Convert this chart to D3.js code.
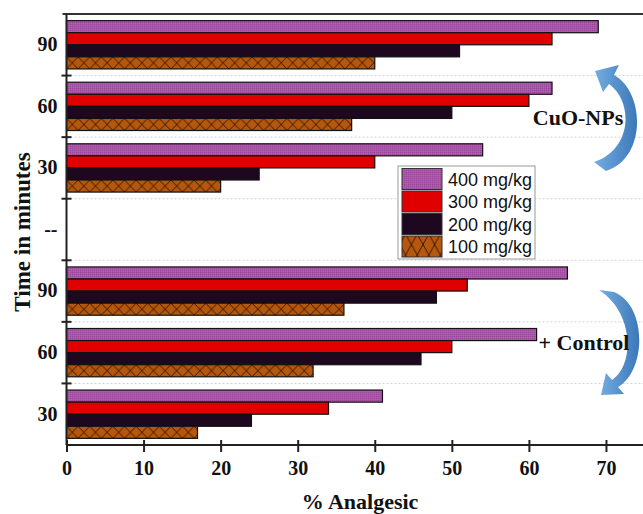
<!DOCTYPE html>
<html>
<head>
<meta charset="utf-8">
<script src="https://cdn.jsdelivr.net/npm/d3@7"></script>
<style>
  html, body { margin: 0; padding: 0; background: #fff; }
  svg { display: block; }
</style>
</head>
<body>
<svg id="chart" width="643" height="514"></svg>
<script>
// ---- data ----
const timeLabels = ["90", "60", "30", "--", "90", "60", "30"];
const seriesNames = ["400 mg/kg", "300 mg/kg", "200 mg/kg", "100 mg/kg"];
const values400 = [69, 63, 54, null, 65, 61, 41];
const values300 = [63, 60, 40, null, 52, 50, 34];
const values200 = [51, 50, 25, null, 48, 46, 24];
const values100 = [40, 37, 20, null, 36, 32, 17];
const xTicks = [0, 10, 20, 30, 40, 50, 60, 70];
const groupNotes = ["CuO-NPs", "+ Control"];

const seriesValues = [values400, values300, values200, values100];
const seriesFill = ["url(#purpleTex)", "#e00000", "#1e0820", null];

const svg = d3.select("#chart");
const defs = svg.append("defs");

const plotLeft = 66.5, plotRight = 644.5, plotTop = 14, plotBottom = 445;
const serif = "'Liberation Serif', 'Times New Roman', serif";

const x = d3.scaleLinear().domain([0, 75]).range([plotLeft, plotRight]);
const y0 = d3.scaleBand().domain(d3.range(timeLabels.length)).range([plotTop, plotBottom]);
const y1 = d3.scaleBand().domain(seriesNames).range([0, y0.bandwidth()]).paddingOuter(0.55);

// purple fine texture
const pt = defs.append("pattern").attr("id", "purpleTex").attr("patternUnits", "userSpaceOnUse")
  .attr("width", 2).attr("height", 2);
pt.append("rect").attr("width", 2).attr("height", 2).attr("fill", "#a955a9");
pt.append("rect").attr("width", 1).attr("height", 1).attr("fill", "#9a479a");
pt.append("rect").attr("x", 1).attr("y", 1).attr("width", 1).attr("height", 1).attr("fill", "#b262b2");

// arrow gradient
const grad = defs.append("linearGradient").attr("id", "arrowGrad")
  .attr("x1", "0%").attr("y1", "0%").attr("x2", "100%").attr("y2", "0%");
grad.append("stop").attr("offset", "0%").attr("stop-color", "#74ade2");
grad.append("stop").attr("offset", "100%").attr("stop-color", "#3c78b8");

// gridlines at band boundaries
const boundaries = d3.range(1, timeLabels.length).map(i => y0(i));
svg.append("g").selectAll("line").data(boundaries).join("line")
  .attr("x1", plotLeft).attr("x2", 643).attr("y1", d => d).attr("y2", d => d)
  .attr("stroke", "#d0d0d0").attr("stroke-width", 1).attr("stroke-dasharray", "2,2");

// hatch pattern per bar of 100 mg/kg
function hatchPattern(id, bx, by, bh) {
  const w = 11.6;
  const p = defs.append("pattern").attr("id", id).attr("patternUnits", "userSpaceOnUse")
    .attr("x", bx).attr("y", by).attr("width", w).attr("height", bh);
  p.append("rect").attr("width", w).attr("height", bh).attr("fill", "#b5570c");
  p.append("path").attr("d", `M0,0L${w},${bh}M${w},0L0,${bh}`)
    .attr("stroke", "#2a1205").attr("stroke-width", 0.9).attr("fill", "none");
  return `url(#${id})`;
}

// bars
const barsG = svg.append("g");
seriesNames.forEach((s, si) => {
  seriesValues[si].forEach((v, ci) => {
    if (v == null) return;
    const by = y0(ci) + y1(s);
    const bh = y1.bandwidth();
    let fill = seriesFill[si];
    if (fill == null) fill = hatchPattern(`hatch${ci}`, x(0), by, bh);
    barsG.append("rect")
      .attr("x", x(0)).attr("y", by)
      .attr("width", x(v) - x(0)).attr("height", bh)
      .attr("fill", fill)
      .attr("stroke", "#111").attr("stroke-width", 1.2);
  });
});

// top frame
svg.append("line").attr("x1", plotLeft - 4).attr("x2", 643).attr("y1", plotTop).attr("y2", plotTop)
  .attr("stroke", "#333").attr("stroke-width", 2);

// left axis line
svg.append("line").attr("x1", plotLeft).attr("x2", plotLeft).attr("y1", plotTop).attr("y2", plotBottom)
  .attr("stroke", "#222").attr("stroke-width", 2);
// boundary ticks on y
svg.append("g").selectAll("line").data(boundaries).join("line")
  .attr("x1", plotLeft - 5).attr("x2", plotLeft + 5).attr("y1", d => d).attr("y2", d => d)
  .attr("stroke", "#222").attr("stroke-width", 2);

// y labels
const yAxis = d3.axisLeft(y0).tickSize(0).tickPadding(9).tickFormat(i => timeLabels[i]);
const yg = svg.append("g").attr("transform", `translate(${plotLeft},0)`).call(yAxis);
yg.select(".domain").remove();
yg.selectAll("text").attr("font-family", serif)
  .attr("font-weight", "bold").attr("font-size", 20).attr("fill", "#111");

// x axis
const xAxis = d3.axisBottom(x).tickValues(xTicks).tickSize(7).tickPadding(9).tickFormat(d3.format("d"));
const xg = svg.append("g").attr("transform", `translate(0,${plotBottom})`).call(xAxis);
xg.select(".domain").attr("d", `M${plotLeft},0H643`).attr("stroke", "#222").attr("stroke-width", 2);
xg.selectAll(".tick line").attr("y1", -5).attr("stroke", "#222").attr("stroke-width", 2);
xg.selectAll("text").attr("font-family", serif)
  .attr("font-weight", "bold").attr("font-size", 20).attr("fill", "#111");

// axis titles
svg.append("text").attr("x", 360).attr("y", 509).attr("text-anchor", "middle")
  .attr("font-family", serif)
  .attr("font-weight", "bold").attr("font-size", 22).attr("fill", "#111")
  .text("% Analgesic");
svg.append("text").attr("transform", "translate(30,232) rotate(-90)").attr("text-anchor", "middle")
  .attr("font-family", serif)
  .attr("font-weight", "bold").attr("font-size", 23).attr("fill", "#111")
  .text("Time in minutes");

// legend
const lg = svg.append("g").attr("transform", "translate(398,166)");
lg.append("rect").attr("width", 137).attr("height", 93).attr("fill", "#fff")
  .attr("stroke", "#999").attr("stroke-width", 1);
seriesNames.forEach((s, i) => {
  const ey = 2.5 + i * 22.5;
  let fill = seriesFill[i];
  if (fill == null) fill = hatchPattern("hatchLegend", 398 + 4, 166 + ey, 21);
  lg.append("rect").attr("x", 4).attr("y", ey).attr("width", 40).attr("height", 21)
    .attr("fill", fill).attr("stroke", "#333").attr("stroke-width", 1);
  lg.append("text").attr("x", 50).attr("y", ey + 17)
    .attr("font-family", "'Liberation Sans', Arial, sans-serif").attr("font-size", 18)
    .attr("fill", "#111").text(s);
});

// curved arrows (decorations)
svg.append("path")
  .attr("d", "M595,71 L619,65 L614,75 C645,92 647,158 606,171 L594,162 C632,150 634,102 609,84 L603,92 Z")
  .attr("fill", "url(#arrowGrad)");
svg.append("path")
  .attr("d", "M599,290 L614,292 C647,305 647,370 618,387 L624,394 L601,395 L606,373 L612,380 C635,365 634,312 599,290 Z")
  .attr("fill", "url(#arrowGrad)");

// group annotations (on top of arrows)
svg.append("text").attr("x", 578).attr("y", 125).attr("text-anchor", "middle")
  .attr("font-family", serif)
  .attr("font-weight", "bold").attr("font-size", 22).attr("fill", "#111").text(groupNotes[0]);
svg.append("text").attr("x", 584).attr("y", 350).attr("text-anchor", "middle")
  .attr("font-family", serif)
  .attr("font-weight", "bold").attr("font-size", 22).attr("fill", "#111").text(groupNotes[1]);
</script>
</body>
</html>
